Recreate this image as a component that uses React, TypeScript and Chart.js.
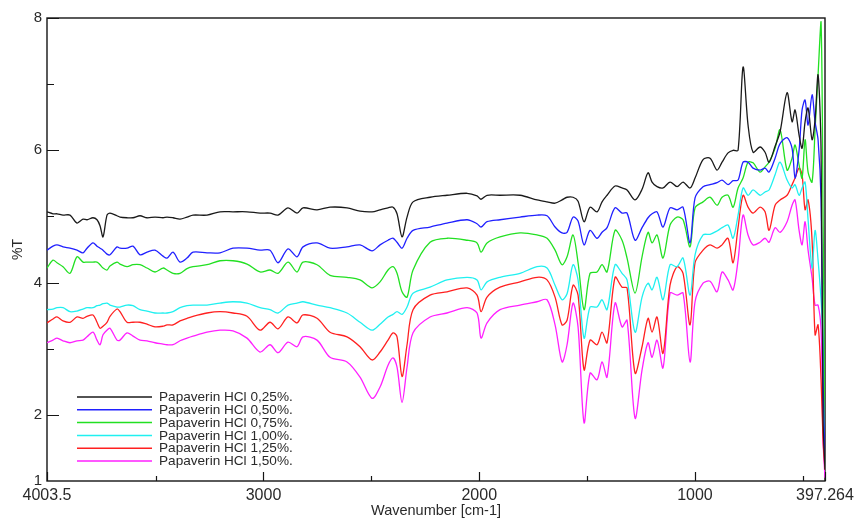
import React, { useEffect, useRef } from 'react';
import { Chart, registerables } from 'chart.js';

Chart.register(...registerables);

const wavenumbers = [
  4003.5, 3975.7, 3957.1, 3929.3, 3896.9, 3864.4, 3836.6, 3818.1, 3790.3, 3771.7,
  3757.8, 3743.9, 3725.4, 3711.5, 3679.0, 3665.1, 3632.6, 3604.8, 3572.4, 3539.9,
  3502.8, 3465.7, 3447.2, 3419.4, 3387.0, 3354.5, 3326.7, 3261.8, 3201.5, 3141.3,
  3076.4, 3016.1, 2969.7, 2932.6, 2886.3, 2844.6, 2816.8, 2751.9, 2691.6, 2612.8,
  2552.5, 2496.9, 2459.8, 2422.7, 2399.5, 2381.0, 2357.8, 2334.6, 2306.8, 2228.0,
  2149.2, 2056.5, 2010.1, 1991.6, 1963.8, 1903.5, 1810.8, 1732.0, 1685.6, 1648.5,
  1616.1, 1592.9, 1565.1, 1541.9, 1514.1, 1486.3, 1453.8, 1430.7, 1407.5, 1370.4,
  1338.0, 1314.8, 1277.7, 1245.3, 1217.5, 1198.9, 1175.8, 1148.0, 1115.5, 1083.0,
  1055.2, 1022.8, 999.6, 962.5, 930.1, 897.6, 874.4, 846.6, 823.4, 800.2,
  777.1, 753.9, 730.7, 698.3, 675.1, 656.5, 628.7, 605.5, 573.0, 549.9,
  536.0, 517.4, 503.5, 489.6, 475.7, 457.2, 443.3, 429.4, 415.5, 406.2, 397.264,
];

const seriesLabels = [
  'Papaverin HCl 0,25%.',
  'Papaverin HCl 0,50%.',
  'Papaverin HCl 0,75%.',
  'Papaverin HCl 1,00%.',
  'Papaverin HCl 1,25%.',
  'Papaverin HCl 1,50%.',
];

const seriesColors = ['#1a1a1a', '#2020ff', '#22e022', '#20f0f0', '#ff2020', '#ff20ff'];

const t025 = [
  5.07, 5.04, 5.04, 5.02, 5.02, 4.90, 4.96, 4.95, 4.98, 4.95,
  4.86, 4.69, 5.02, 5.05, 5.01, 4.99, 4.98, 4.98, 5.01, 4.98,
  4.99, 4.98, 4.99, 4.98, 4.96, 4.99, 5.02, 5.02, 5.07, 5.07,
  5.07, 5.05, 5.05, 5.02, 5.13, 5.05, 5.13, 5.10, 5.14, 5.13,
  5.08, 5.07, 5.10, 5.13, 5.14, 5.04, 4.69, 4.99, 5.22, 5.29,
  5.32, 5.35, 5.31, 5.26, 5.32, 5.32, 5.32, 5.25, 5.22, 5.20,
  5.25, 5.29, 5.29, 5.23, 4.92, 5.14, 5.07, 5.22, 5.32, 5.46,
  5.43, 5.40, 5.25, 5.41, 5.66, 5.52, 5.45, 5.43, 5.52, 5.45,
  5.52, 5.43, 5.58, 5.86, 5.88, 5.70, 5.82, 5.96, 6.00, 6.00,
  7.26, 6.38, 5.97, 6.05, 5.97, 5.82, 6.06, 6.28, 6.87, 6.43,
  6.61, 6.23, 6.03, 6.43, 6.64, 6.16, 6.46, 7.14, 6.00, 1.92, 1.17,
];

const t050 = [
  4.49, 4.55, 4.57, 4.54, 4.52, 4.49, 4.45, 4.52, 4.60, 4.55,
  4.52, 4.49, 4.43, 4.42, 4.54, 4.52, 4.52, 4.55, 4.42, 4.46,
  4.49, 4.40, 4.37, 4.46, 4.31, 4.37, 4.46, 4.45, 4.45, 4.52,
  4.52, 4.49, 4.49, 4.30, 4.51, 4.39, 4.54, 4.60, 4.52, 4.54,
  4.57, 4.48, 4.57, 4.64, 4.67, 4.61, 4.52, 4.67, 4.79, 4.84,
  4.90, 4.95, 4.89, 4.84, 4.92, 4.95, 4.99, 5.02, 5.01, 4.84,
  4.75, 4.76, 4.99, 4.93, 4.57, 4.79, 4.67, 4.76, 4.83, 5.13,
  5.05, 5.05, 4.64, 4.83, 4.98, 5.04, 5.07, 4.84, 5.13, 5.10,
  5.14, 4.60, 5.28, 5.45, 5.48, 5.51, 5.55, 5.48, 5.54, 5.55,
  5.82, 5.82, 5.73, 5.70, 5.73, 5.67, 5.88, 6.10, 6.19, 6.03,
  5.58, 6.00, 6.61, 6.76, 6.38, 6.84, 6.43, 6.16, 5.25, 2.53, 1.29,
];

const t075 = [
  4.22, 4.34, 4.30, 4.24, 4.14, 4.39, 4.31, 4.31, 4.31, 4.31,
  4.27, 4.22, 4.19, 4.25, 4.31, 4.28, 4.24, 4.27, 4.27, 4.22,
  4.16, 4.22, 4.19, 4.14, 4.14, 4.21, 4.24, 4.27, 4.33, 4.33,
  4.28, 4.16, 4.19, 4.14, 4.31, 4.16, 4.31, 4.27, 4.11, 4.08,
  4.04, 3.92, 4.01, 4.19, 4.24, 4.14, 3.86, 3.78, 4.19, 4.61,
  4.67, 4.64, 4.60, 4.46, 4.60, 4.69, 4.75, 4.72, 4.67, 4.49,
  4.27, 4.39, 4.72, 4.30, 3.59, 4.14, 4.16, 4.27, 4.16, 4.79,
  4.64, 4.37, 3.84, 4.39, 4.76, 4.60, 4.72, 4.37, 4.87, 4.99,
  4.95, 4.54, 5.13, 5.22, 5.29, 5.17, 5.29, 5.32, 5.14, 5.43,
  5.58, 5.82, 5.81, 5.67, 5.75, 5.82, 6.03, 6.31, 5.70, 5.88,
  6.08, 5.78, 5.58, 6.16, 5.67, 5.52, 6.31, 7.14, 7.94, 5.02, 1.62,
];

const t100 = [
  3.59, 3.60, 3.62, 3.62, 3.56, 3.57, 3.60, 3.62, 3.62, 3.65,
  3.66, 3.68, 3.69, 3.66, 3.63, 3.63, 3.66, 3.65, 3.59, 3.57,
  3.54, 3.54, 3.54, 3.56, 3.62, 3.65, 3.66, 3.66, 3.69, 3.71,
  3.69, 3.62, 3.59, 3.54, 3.66, 3.69, 3.71, 3.66, 3.62, 3.54,
  3.40, 3.28, 3.37, 3.48, 3.52, 3.56, 3.52, 3.63, 3.84, 3.93,
  4.04, 4.08, 4.04, 3.89, 4.01, 4.08, 4.14, 4.24, 4.22, 3.96,
  3.74, 3.83, 4.27, 4.04, 3.16, 3.63, 3.63, 3.74, 3.59, 4.27,
  4.14, 4.04, 3.25, 3.78, 3.99, 3.89, 4.08, 3.74, 4.27, 4.24,
  4.37, 3.81, 4.42, 4.72, 4.73, 4.78, 4.83, 4.87, 4.67, 5.02,
  5.43, 5.32, 5.40, 5.32, 5.37, 5.40, 5.63, 5.82, 5.55, 5.43,
  5.48, 5.32, 5.43, 5.52, 4.95, 4.22, 4.79, 4.34, 3.74, 3.13, 1.62,
];

const t125 = [
  3.39, 3.45, 3.48, 3.42, 3.40, 3.48, 3.46, 3.49, 3.51, 3.40,
  3.31, 3.34, 3.40, 3.49, 3.60, 3.56, 3.40, 3.40, 3.40, 3.37,
  3.33, 3.34, 3.36, 3.36, 3.42, 3.46, 3.49, 3.54, 3.56, 3.54,
  3.49, 3.28, 3.40, 3.30, 3.48, 3.39, 3.51, 3.46, 3.25, 3.18,
  3.03, 2.83, 2.95, 3.13, 3.24, 3.18, 2.58, 3.06, 3.59, 3.81,
  3.86, 3.92, 3.81, 3.56, 3.78, 3.93, 4.01, 4.08, 4.04, 3.78,
  3.36, 3.43, 3.96, 3.81, 2.68, 3.13, 3.06, 3.25, 3.09, 4.08,
  3.93, 3.92, 2.63, 3.03, 3.46, 3.25, 3.48, 2.93, 3.96, 4.24,
  4.14, 3.36, 4.30, 4.49, 4.57, 4.52, 4.57, 4.67, 4.30, 4.83,
  5.32, 5.14, 5.05, 5.14, 5.07, 4.79, 5.17, 5.25, 5.32, 5.48,
  5.58, 5.73, 5.63, 5.10, 5.25, 4.64, 3.21, 3.36, 2.53, 1.62, 1.17,
];

const t150 = [
  3.09, 3.13, 3.16, 3.12, 3.09, 3.12, 3.13, 3.18, 3.25, 3.13,
  3.06, 3.21, 3.28, 3.31, 3.13, 3.13, 3.24, 3.19, 3.13, 3.12,
  3.09, 3.07, 3.06, 3.06, 3.12, 3.16, 3.19, 3.25, 3.28, 3.27,
  3.16, 2.95, 3.06, 2.94, 3.10, 3.03, 3.18, 3.13, 2.87, 2.80,
  2.57, 2.25, 2.42, 2.75, 2.86, 2.72, 2.19, 2.72, 3.24, 3.48,
  3.54, 3.62, 3.54, 3.16, 3.39, 3.59, 3.66, 3.71, 3.74, 3.36,
  2.80, 3.06, 3.69, 3.33, 1.88, 2.63, 2.53, 2.80, 2.57, 3.69,
  3.33, 3.43, 1.95, 2.68, 3.09, 2.87, 3.13, 2.71, 3.84, 3.81,
  3.84, 2.80, 3.71, 3.99, 4.02, 3.86, 4.16, 4.04, 3.89, 4.34,
  5.02, 4.72, 4.57, 4.61, 4.67, 4.61, 4.83, 4.76, 4.92, 5.17,
  5.25, 4.79, 4.57, 4.92, 4.49, 4.07, 3.66, 3.66, 3.28, 1.62, 1.05,
];

const seriesValues = [t025, t050, t075, t100, t125, t150];

const xTickValues = [4003.5, 3500, 3000, 2500, 2000, 1500, 1000, 500, 397.264];
const xTickLabels = ['4003.5', '', '3000', '', '2000', '', '1000', '', '397.264'];
const yTickValues = [1, 2, 3, 4, 5, 6, 7, 8];
const yTickLabels = ['1', '2', '', '4', '', '6', '', '8'];

const FONT = '"Liberation Sans", Arial, Helvetica, sans-serif';
const TEXT = '#2a2a2a';

const framePlugin = {
  id: 'frameTicks',
  beforeDatasetsDraw(chart: any) {
    const { ctx, chartArea: a, scales } = chart;
    ctx.save();
    ctx.strokeStyle = '#151515';
    ctx.lineWidth = 1.4;
    ctx.strokeRect(a.left, a.top, a.right - a.left, a.bottom - a.top);
    ctx.lineWidth = 1.2;
    ctx.beginPath();
    yTickValues.forEach((v, i) => {
      if (v === 1) return;
      const y = Math.round(scales.y.getPixelForValue(v)) + 0.5;
      const len = yTickLabels[i] ? 12 : 7;
      ctx.moveTo(a.left, y);
      ctx.lineTo(a.left + len, y);
    });
    xTickValues.forEach((v, i) => {
      const x = Math.round(scales.x.getPixelForValue(v)) + 0.5;
      const len = xTickLabels[i] ? 9 : 5;
      ctx.moveTo(x, a.bottom);
      ctx.lineTo(x, a.bottom - len);
    });
    ctx.stroke();
    ctx.restore();
  },
  afterDatasetsDraw(chart: any) {
    const { ctx, chartArea: a } = chart;
    ctx.save();
    ctx.font = `13.6px ${FONT}`;
    ctx.textBaseline = 'middle';
    ctx.textAlign = 'left';
    chart.data.datasets.forEach((ds: any, i: number) => {
      const y = a.top + 379 + i * 12.8;
      ctx.strokeStyle = ds.borderColor;
      ctx.lineWidth = 1.5;
      ctx.beginPath();
      ctx.moveTo(a.left + 30, y);
      ctx.lineTo(a.left + 105, y);
      ctx.stroke();
      ctx.fillStyle = TEXT;
      ctx.fillText(ds.label, a.left + 112, y + 0.5);
    });
    ctx.restore();
  },
};

export default function App() {
  const canvasRef = useRef<HTMLCanvasElement | null>(null);

  useEffect(() => {
    document.body.style.margin = '0';
    const canvas = canvasRef.current;
    if (!canvas) return;
    const datasets = seriesLabels.map((label, s) => ({
      label,
      data: wavenumbers.map((w, i) => ({ x: w, y: seriesValues[s][i] })),
      borderColor: seriesColors[s],
      backgroundColor: seriesColors[s],
      borderWidth: 1.3,
      pointRadius: 0,
      tension: 0.3,
      fill: false,
    }));
    const chart = new Chart(canvas, {
      type: 'line',
      data: { datasets },
      plugins: [framePlugin],
      options: {
        animation: false,
        responsive: false,
        maintainAspectRatio: false,
        layout: { padding: { top: 18, right: 31, left: 0, bottom: 0 } },
        plugins: {
          legend: { display: false },
          tooltip: { enabled: false },
        },
        scales: {
          x: {
            type: 'linear',
            reverse: true,
            min: 397.264,
            max: 4003.5,
            grid: { display: false, drawTicks: false },
            border: { display: false },
            afterBuildTicks: (scale: any) => {
              scale.ticks = xTickValues.map((v) => ({ value: v }));
            },
            afterFit: (scale: any) => {
              scale.height = 41;
              scale.paddingLeft = 0;
              scale.paddingRight = 0;
            },
            ticks: {
              autoSkip: false,
              maxRotation: 0,
              padding: 5,
              color: TEXT,
              font: { family: FONT, size: 16 },
              callback: (_v: any, i: number) => xTickLabels[i],
            },
            title: {
              display: true,
              text: 'Wavenumber [cm-1]',
              color: TEXT,
              font: { family: FONT, size: 14.5 },
              padding: { top: 0, bottom: 2 },
            },
          },
          y: {
            type: 'linear',
            min: 1,
            max: 8,
            grid: { display: false, drawTicks: false },
            border: { display: false },
            afterBuildTicks: (scale: any) => {
              scale.ticks = yTickValues.map((v) => ({ value: v }));
            },
            afterFit: (scale: any) => {
              scale.width = 47;
              scale.paddingTop = 0;
              scale.paddingBottom = 0;
            },
            ticks: {
              autoSkip: false,
              padding: 5,
              color: TEXT,
              font: { family: FONT, size: 15 },
              callback: (_v: any, i: number) => yTickLabels[i],
            },
            title: {
              display: true,
              text: '%T',
              color: TEXT,
              font: { family: FONT, size: 14 },
              padding: { top: 10, bottom: 0 },
            },
          },
        },
      },
    });
    return () => chart.destroy();
  }, []);

  return (
    <div style={{ width: 856, height: 522, background: '#fff' }}>
      <canvas ref={canvasRef} width={856} height={522} style={{ display: 'block' }} />
    </div>
  );
}
